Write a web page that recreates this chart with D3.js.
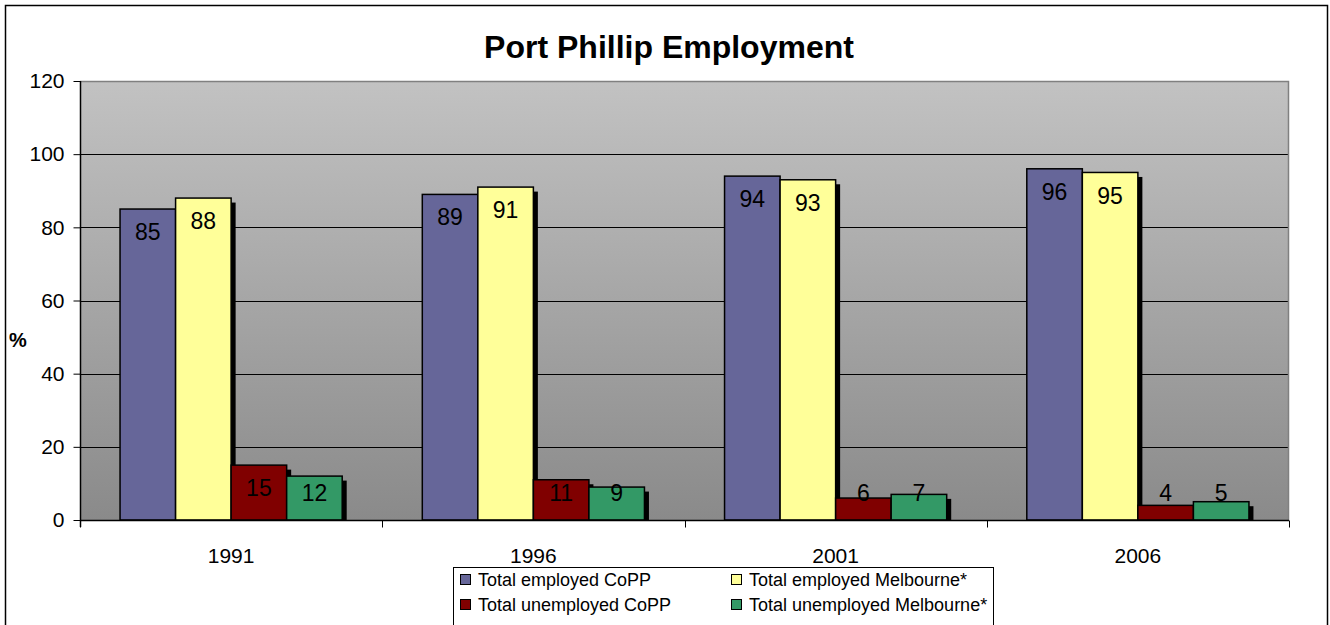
<!DOCTYPE html>
<html>
<head>
<meta charset="utf-8">
<script src="https://cdn.jsdelivr.net/npm/d3@7"></script>
<style>
  html, body { margin: 0; padding: 0; background: #fff; }
  svg { display: block; font-family: "Liberation Sans", Arial, sans-serif; }
</style>
</head>
<body>
<svg id="chart" width="1330" height="625"></svg>
<script>
// Census years and the four employment series (% of labour force)
const years = ["1991", "1996", "2001", "2006"];
const seriesNames = ["Total employed CoPP", "Total employed Melbourne*", "Total unemployed CoPP", "Total unemployed Melbourne*"];
const employedCoPP = [85, 89, 94, 96];
const employedMelb = [88, 91, 93, 95];
const unemployedCoPP = [15, 11, 6, 4];
const unemployedMelb = [12, 9, 7, 5];
const seriesColors = ["#666699", "#ffff99", "#800000", "#339966"];
const yTicks = [0, 20, 40, 60, 80, 100, 120];

const seriesValues = [employedCoPP, employedMelb, unemployedCoPP, unemployedMelb];

const svg = d3.select("#chart");
const plot = { left: 80, right: 1289, top: 81, bottom: 520 };

// outer chart frame
svg.append("rect")
  .attr("x", 5.5).attr("y", 5.5).attr("width", 1322).attr("height", 640)
  .attr("fill", "#fff").attr("stroke", "#000").attr("stroke-width", 1.5);

// plot background gradient
const defs = svg.append("defs");
const grad = defs.append("linearGradient").attr("id", "bg").attr("x1", 0).attr("y1", 0).attr("x2", 0).attr("y2", 1);
grad.append("stop").attr("offset", "0%").attr("stop-color", "#c2c2c2");
grad.append("stop").attr("offset", "100%").attr("stop-color", "#8a8a8a");
defs.append("clipPath").attr("id", "plotClip").append("rect")
  .attr("x", plot.left).attr("y", plot.top)
  .attr("width", plot.right - plot.left).attr("height", plot.bottom - plot.top);

svg.append("rect")
  .attr("x", plot.left).attr("y", plot.top)
  .attr("width", plot.right - plot.left).attr("height", plot.bottom - plot.top)
  .attr("fill", "url(#bg)");

const y = d3.scaleLinear().domain([0, 120]).range([plot.bottom, plot.top]);
const x = d3.scaleBand().domain(years).range([plot.left, plot.right]).padding(0);
const groupWidth = x.bandwidth() * 0.735;
const xs = d3.scaleBand().domain(seriesNames).range([0, groupWidth]).padding(0);

// gridlines
svg.append("g").selectAll("line").data(yTicks.filter(t => t > 0 && t < 120)).join("line")
  .attr("x1", plot.left).attr("x2", plot.right)
  .attr("y1", d => Math.round(y(d)) + 0.5).attr("y2", d => Math.round(y(d)) + 0.5)
  .attr("stroke", "#000").attr("stroke-width", 1);

// plot border (top/right)
svg.append("path")
  .attr("d", `M${plot.left},${plot.top + 0.5}H${plot.right - 0.5}V${plot.bottom}`)
  .attr("fill", "none").attr("stroke", "#808080").attr("stroke-width", 1.5);

// bars
const barData = [];
years.forEach((yr, i) => {
  seriesNames.forEach((s, j) => {
    barData.push({ year: yr, series: s, idx: j, value: seriesValues[j][i] });
  });
});
const bx = d => x(d.year) + (x.bandwidth() - groupWidth) / 2 + xs(d.series);

const barsG = svg.append("g").attr("clip-path", "url(#plotClip)");
const grp = barsG.selectAll("g").data(barData).join("g");
grp.append("rect")
  .attr("x", d => bx(d) + 4.5).attr("y", d => y(d.value) + 4.5)
  .attr("width", xs.bandwidth()).attr("height", d => y(0) - y(d.value))
  .attr("fill", "#000");
grp.append("rect")
  .attr("x", d => bx(d)).attr("y", d => y(d.value))
  .attr("width", xs.bandwidth()).attr("height", d => y(0) - y(d.value))
  .attr("fill", d => seriesColors[d.idx])
  .attr("stroke", "#000").attr("stroke-width", 1.5);

// value labels
svg.append("g").selectAll("text").data(barData).join("text")
  .attr("x", d => bx(d) + xs.bandwidth() / 2)
  .attr("y", d => Math.min(y(d.value) + 23, y(0) - 27))
  .attr("dy", "0.35em")
  .attr("text-anchor", "middle")
  .attr("font-size", 23)
  .attr("fill", "#000")
  .text(d => d.value);

// y axis
const yAxis = svg.append("g").attr("transform", `translate(${plot.left + 0.5},0)`)
  .call(d3.axisLeft(y).tickValues(yTicks).tickSize(7).tickPadding(9));
yAxis.select(".domain").attr("stroke", "#000").attr("stroke-width", 1.5).attr("d", `M0,${plot.top}V${plot.bottom + 7}`);
yAxis.selectAll(".tick line").attr("stroke", "#000");
yAxis.selectAll("text").attr("font-size", 21).attr("fill", "#000").attr("font-family", "Liberation Sans, Arial, sans-serif");

// x axis
const xAxis = svg.append("g").attr("transform", `translate(0,${plot.bottom + 0.5})`);
xAxis.append("line").attr("x1", plot.left).attr("x2", plot.right).attr("stroke", "#000").attr("stroke-width", 1.5);
xAxis.selectAll("line.tk").data(years.map(d => x(d)).concat([plot.right])).join("line")
  .attr("class", "tk")
  .attr("x1", d => Math.round(d) + 0.5).attr("x2", d => Math.round(d) + 0.5)
  .attr("y1", 0).attr("y2", 7).attr("stroke", "#000");
xAxis.selectAll("text").data(years).join("text")
  .attr("x", d => x(d) + x.bandwidth() / 2).attr("y", 35)
  .attr("dy", "0.35em").attr("text-anchor", "middle")
  .attr("font-size", 21).text(d => d);

// title and axis title
svg.append("text").attr("x", 669).attr("y", 47).attr("dy", "0.35em")
  .attr("text-anchor", "middle").attr("font-size", 32).attr("font-weight", "bold")
  .text("Port Phillip Employment");
svg.append("text").attr("x", 18).attr("y", 340).attr("dy", "0.35em")
  .attr("text-anchor", "middle").attr("font-size", 20).attr("font-weight", "bold")
  .text("%");

// legend
const legend = svg.append("g");
legend.append("rect").attr("x", 453.5).attr("y", 567.5).attr("width", 540).attr("height", 70)
  .attr("fill", "#fff").attr("stroke", "#000").attr("stroke-width", 1);
const legPos = [[460, 580], [731, 580], [460, 605], [731, 605]];
const items = legend.selectAll("g").data(seriesNames).join("g")
  .attr("transform", (d, i) => `translate(${legPos[i][0]},${legPos[i][1]})`);
items.append("rect").attr("x", 0.5).attr("y", -5.5).attr("width", 10).attr("height", 10)
  .attr("fill", (d, i) => seriesColors[i]).attr("stroke", "#000").attr("stroke-width", 1);
items.append("text").attr("x", 18).attr("y", 0).attr("dy", "0.35em")
  .attr("font-size", 18).text(d => d);
</script>
</body>
</html>
